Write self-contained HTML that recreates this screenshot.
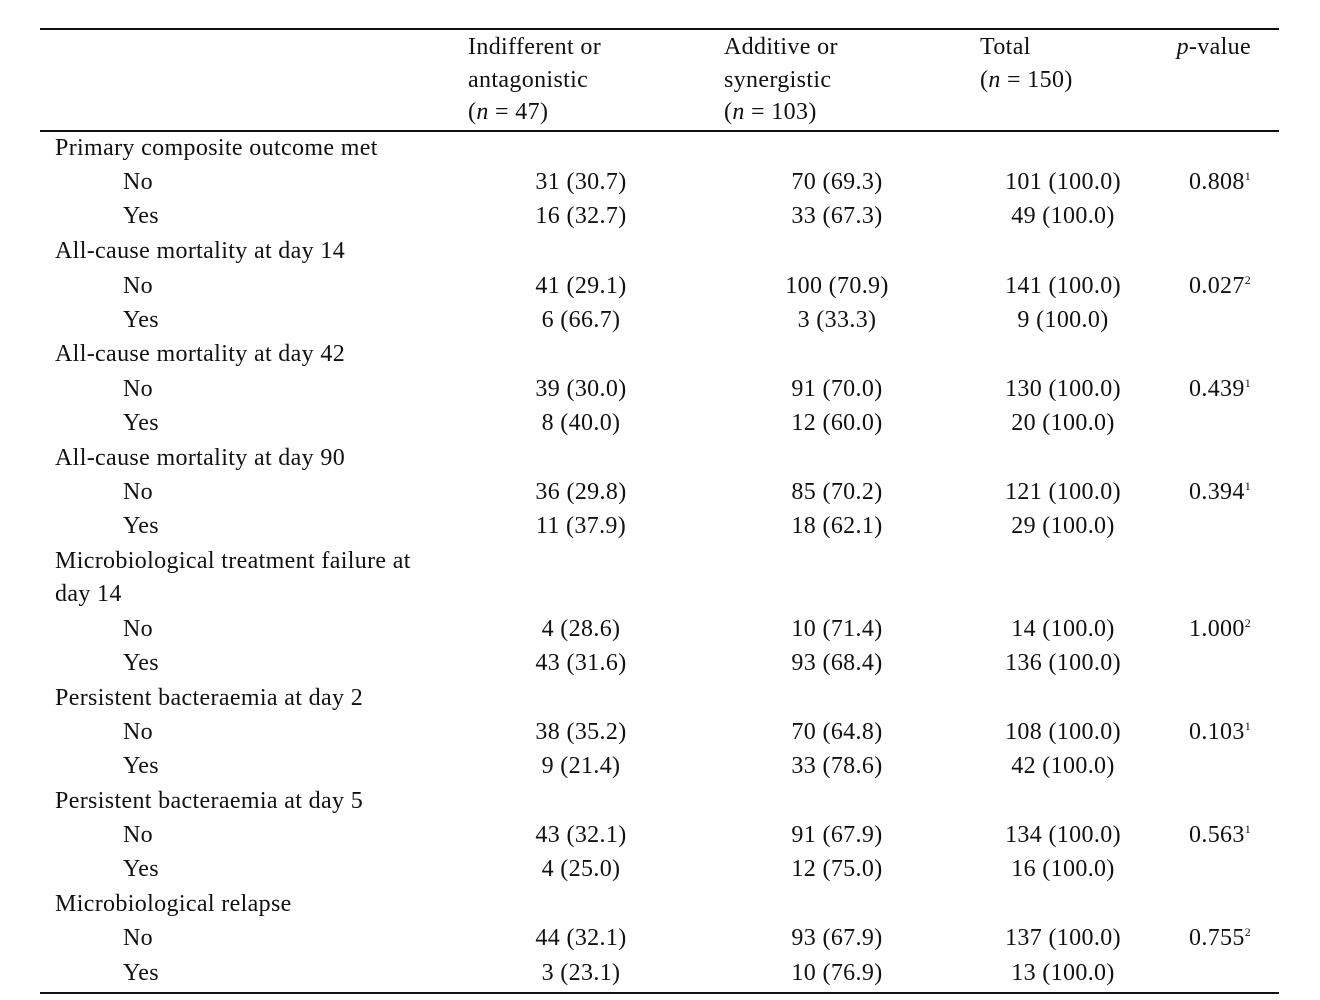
<!DOCTYPE html>
<html><head><meta charset="utf-8"><style>
body{margin:0;width:1320px;height:1000px;background:#fff;overflow:hidden;position:relative;font-family:"Liberation Serif",serif;font-size:24px;letter-spacing:0.35px;color:#111}
.t{position:absolute;white-space:nowrap;line-height:26px}
.c{transform:translateX(-50%)}
.r{transform:translateX(-100%)}
.l{position:absolute;left:40px;width:1239px;background:#111}
sup{font-size:12px;vertical-align:9px;line-height:0}
</style></head><body>
<div class="l" style="top:28px;height:1.5px"></div>
<div class="l" style="top:130px;height:1.5px"></div>
<div class="l" style="top:992px;height:2px"></div>

<div class="t" style="left:468px;top:34px">Indifferent or</div>
<div class="t" style="left:468px;top:67px">antagonistic</div>
<div class="t" style="left:468px;top:99px">(<i>n</i> = 47)</div>
<div class="t" style="left:724px;top:34px">Additive or</div>
<div class="t" style="left:724px;top:67px">synergistic</div>
<div class="t" style="left:724px;top:99px">(<i>n</i> = 103)</div>
<div class="t" style="left:980px;top:34px">Total</div>
<div class="t" style="left:980px;top:67px">(<i>n</i> = 150)</div>
<div class="t r" style="left:1251px;top:34px"><i>p</i>-value</div>

<div id="rows"></div>
<script>
const rows=[
["h","Primary composite outcome met"],
["No","31 (30.7)","70 (69.3)","101 (100.0)","0.808","1"],
["Yes","16 (32.7)","33 (67.3)","49 (100.0)"],
["h","All-cause mortality at day 14"],
["No","41 (29.1)","100 (70.9)","141 (100.0)","0.027","2"],
["Yes","6 (66.7)","3 (33.3)","9 (100.0)"],
["h","All-cause mortality at day 42"],
["No","39 (30.0)","91 (70.0)","130 (100.0)","0.439","1"],
["Yes","8 (40.0)","12 (60.0)","20 (100.0)"],
["h","All-cause mortality at day 90"],
["No","36 (29.8)","85 (70.2)","121 (100.0)","0.394","1"],
["Yes","11 (37.9)","18 (62.1)","29 (100.0)"],
["h","Microbiological treatment failure at"],
["h2","day 14"],
["No","4 (28.6)","10 (71.4)","14 (100.0)","1.000","2"],
["Yes","43 (31.6)","93 (68.4)","136 (100.0)"],
["h","Persistent bacteraemia at day 2"],
["No","38 (35.2)","70 (64.8)","108 (100.0)","0.103","1"],
["Yes","9 (21.4)","33 (78.6)","42 (100.0)"],
["h","Persistent bacteraemia at day 5"],
["No","43 (32.1)","91 (67.9)","134 (100.0)","0.563","1"],
["Yes","4 (25.0)","12 (75.0)","16 (100.0)"],
["h","Microbiological relapse"],
["No","44 (32.1)","93 (67.9)","137 (100.0)","0.755","2"],
["Yes","3 (23.1)","10 (76.9)","13 (100.0)"]];
const ys=[148,182,216,251,286,320,354,389,423,458,492,526,561,594,629,663,698,732,766,801,835,869,904,938,973];
let h="";
rows.forEach((r,i)=>{const top=ys[i]-13;
if(r[0]=="h"||r[0]=="h2"){h+=`<div class="t" style="left:55px;top:${top}px">${r[1]}</div>`;return;}
h+=`<div class="t" style="left:123px;top:${top}px">${r[0]}</div>`;
h+=`<div class="t c" style="left:581px;top:${top}px">${r[1]}</div>`;
h+=`<div class="t c" style="left:837px;top:${top}px">${r[2]}</div>`;
h+=`<div class="t c" style="left:1063px;top:${top}px">${r[3]}</div>`;
if(r[4])h+=`<div class="t" style="left:1189px;top:${top}px">${r[4]}<sup>${r[5]}</sup></div>`;
});
document.getElementById("rows").innerHTML=h;
</script>
</body></html>
